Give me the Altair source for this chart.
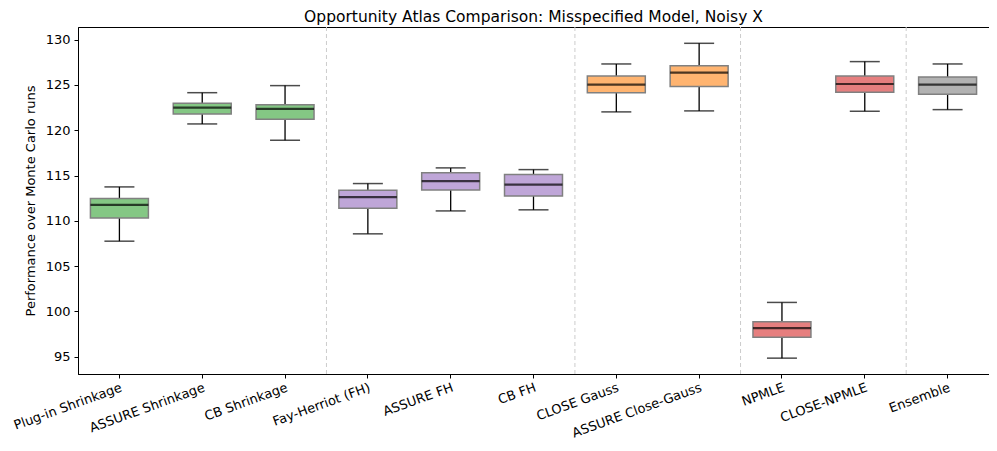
import altair as alt
import pandas as pd

methods = ["Plug-in Shrinkage", "ASSURE Shrinkage", "CB Shrinkage", "Fay-Herriot (FH)",
           "ASSURE FH", "CB FH", "CLOSE Gauss", "ASSURE Close-Gauss", "NPMLE",
           "CLOSE-NPMLE", "Ensemble"]
groups = ["shrink", "shrink", "shrink", "fh", "fh", "fh", "close", "close",
          "npmle", "npmle", "ens"]
whislo = [107.76, 120.70, 118.90, 108.57, 111.10, 111.22, 122.03, 122.14, 94.85, 122.10, 122.28]
q1 = [110.33, 121.80, 121.22, 111.40, 113.42, 112.76, 124.15, 124.82, 97.17, 124.20, 123.97]
med = [111.77, 122.50, 122.36, 112.62, 114.38, 114.01, 125.04, 126.36, 98.17, 125.11, 125.04]
q3 = [112.46, 122.98, 122.83, 113.39, 115.30, 115.11, 126.00, 127.13, 98.86, 126.00, 125.89]
whishi = [113.75, 124.15, 124.93, 114.12, 115.85, 115.66, 127.32, 129.60, 101.00, 127.58, 127.32]

group_names = ["shrink", "fh", "close", "npmle", "ens"]
group_colors = ["#84c784", "#bfa6d8", "#ffb470", "#e67f7f", "#b2b2b2"]

separators_after = ["CB Shrinkage", "CB FH", "ASSURE Close-Gauss", "CLOSE-NPMLE"]
y_ticks = [95, 100, 105, 110, 115, 120, 125, 130]

df = pd.DataFrame({"method": methods, "group": groups, "whislo": whislo,
                   "q1": q1, "med": med, "q3": q3, "whishi": whishi})
sep_df = pd.DataFrame({"method": separators_after})

xscale = alt.Scale(domain=methods, paddingInner=0, paddingOuter=0)
yscale = alt.Scale(domain=[93.1, 131.4], nice=False, zero=False)

x_enc = alt.X("method:N", scale=xscale, sort=methods, title=None,
              axis=alt.Axis(labelAngle=340, labelAlign="right", labelBaseline="top",
                            labelPadding=3, tickSize=4))
y_axis = alt.Axis(values=y_ticks, tickSize=4, labelPadding=4, titlePadding=8,
                  title="Performance over Monte Carlo runs")

base = alt.Chart(df)

seps = alt.Chart(sep_df).mark_rule(color="#cccccc", strokeDash=[4, 3], strokeWidth=1).encode(
    x=alt.X("method:N", scale=xscale, sort=methods, bandPosition=1, title=None)
)

whisk_low = base.mark_rule(color="black", strokeWidth=1.3).encode(
    x=x_enc,
    y=alt.Y("whislo:Q", scale=yscale, axis=y_axis),
    y2="q1:Q",
)
whisk_high = base.mark_rule(color="black", strokeWidth=1.3).encode(
    x=x_enc,
    y=alt.Y("q3:Q", scale=yscale),
    y2="whishi:Q",
)
boxes = base.mark_bar(width=alt.RelativeBandSize(0.7), stroke="#808080",
                      strokeWidth=1.5, opacity=1).encode(
    x=x_enc,
    y=alt.Y("q1:Q", scale=yscale),
    y2="q3:Q",
    color=alt.Color("group:N", scale=alt.Scale(domain=group_names, range=group_colors),
                    legend=None),
)
medians = base.mark_tick(color="black", size=58, thickness=2.2).encode(
    x=x_enc, y=alt.Y("med:Q", scale=yscale)
)
cap_low = base.mark_tick(color="black", size=30, thickness=1.5).encode(
    x=x_enc, y=alt.Y("whislo:Q", scale=yscale)
)
cap_high = base.mark_tick(color="black", size=30, thickness=1.5).encode(
    x=x_enc, y=alt.Y("whishi:Q", scale=yscale)
)

chart = alt.layer(seps, whisk_low, whisk_high, boxes, medians, cap_low, cap_high).properties(
    width=911, height=347,
    padding={"left": 3, "top": 2, "right": 0, "bottom": 0},
    title=alt.TitleParams("Opportunity Atlas Comparison: Misspecified Model, Noisy X",
                          fontSize=15.5, fontWeight="normal", font="DejaVu Sans",
                          color="black", offset=1),
).configure_view(stroke="black", strokeWidth=1).configure_axis(
    grid=False, domainColor="black", tickColor="black", labelColor="black",
    titleColor="black", labelFont="DejaVu Sans", titleFont="DejaVu Sans",
    labelFontSize=13, titleFontSize=13, titleFontWeight="normal", domainWidth=1,
)

chart.save("out.html", embed_options={"renderer": "svg", "actions": False})
